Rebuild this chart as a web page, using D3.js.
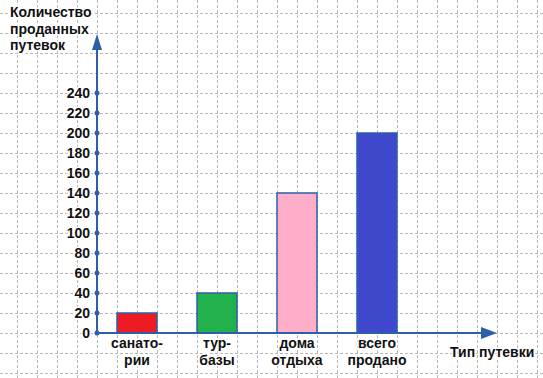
<!DOCTYPE html>
<html lang="ru">
  <head>
    <meta charset="utf-8">
    <title>Путевки</title>
    <script src="https://cdn.jsdelivr.net/npm/d3@7"></script>
    <style>
      body { margin: 0; background: #fff; }
      text { font-family: Arial, "Liberation Sans", sans-serif; font-weight: bold; font-size: 14px; fill: #111; }
    </style>
  </head>
  <body>
    <script>
      // data
      var categories = ["санатории", "турбазы", "дома отдыха", "всего продано"];
      var catLines = [["санато-", "рии"], ["тур-", "базы"], ["дома", "отдыха"], ["всего", "продано"]];
      var values = [20, 40, 140, 200];
      var colors = ["#ed1c24", "#22b14c", "#ffaec9", "#3f48cc"];
      var yTicks = [0, 20, 40, 60, 80, 100, 120, 140, 160, 180, 200, 220, 240];
      var yTitle = ["Количество", "проданных", "путевок"];
      var xTitle = "Тип путевки";

      const W = 543, H = 378;
      const AXIS = "#2c5fa8";

      var svg = d3.select("body").append("svg")
        .attr("width", W)
        .attr("height", H);

      // dashed grid, 20px cells
      var grid = svg.append("g")
        .attr("stroke", "#b8b8b8")
        .attr("stroke-dasharray", "3,2")
        .attr("stroke-width", 1);
      grid.selectAll("line.h").data(d3.range(13, H, 20)).join("line")
        .attr("x1", 0).attr("x2", W)
        .attr("y1", d => d + 0.5).attr("y2", d => d + 0.5);
      grid.selectAll("line.v").data(d3.range(17, W, 20)).join("line")
        .attr("y1", 0).attr("y2", H)
        .attr("x1", d => d + 0.5).attr("x2", d => d + 0.5);

      var y = d3.scaleLinear().domain([0, 240]).range([333, 93]);
      var x = d3.scaleBand().domain(categories).range([97, 417])
        .paddingInner(0.5).paddingOuter(0.25);

      // bars
      svg.selectAll("rect.bar").data(values).join("rect")
        .attr("class", "bar")
        .attr("x", (d, i) => x(categories[i]))
        .attr("y", d => y(d))
        .attr("width", x.bandwidth())
        .attr("height", d => y(0) - y(d))
        .attr("fill", (d, i) => colors[i])
        .attr("stroke", AXIS)
        .attr("stroke-width", 1.5);

      // y axis
      svg.append("line")
        .attr("x1", 97).attr("x2", 97)
        .attr("y1", y(0)).attr("y2", 48)
        .attr("stroke", AXIS).attr("stroke-width", 2);
      svg.append("path")
        .attr("d", "M97,34 L102,50 L92,50 Z")
        .attr("fill", AXIS);

      // x axis
      svg.append("line")
        .attr("x1", 96).attr("x2", 483)
        .attr("y1", y(0)).attr("y2", y(0))
        .attr("stroke", AXIS).attr("stroke-width", 2);
      svg.append("path")
        .attr("d", "M497," + y(0) + " L481," + (y(0) - 6) + " L481," + (y(0) + 6) + " Z")
        .attr("fill", AXIS);

      // tick dots + labels
      svg.selectAll("circle.tick").data(yTicks).join("circle")
        .attr("cx", 97).attr("cy", d => y(d)).attr("r", 2.5)
        .attr("fill", AXIS);
      svg.selectAll("text.tick").data(yTicks).join("text")
        .attr("x", 90).attr("y", d => y(d))
        .attr("dy", "0.36em")
        .attr("text-anchor", "end")
        .attr("stroke", "#fff").attr("stroke-width", 3)
        .attr("paint-order", "stroke")
        .text(d => d);

      // category labels
      var cat = svg.selectAll("text.cat").data(catLines).join("text")
        .attr("text-anchor", "middle")
        .attr("stroke", "#fff").attr("stroke-width", 3)
        .attr("paint-order", "stroke");
      cat.selectAll("tspan").data((d, i) => d.map(s => ({ s: s, i: i }))).join("tspan")
        .attr("x", d => x(categories[d.i]) + x.bandwidth() / 2)
        .attr("y", (d, j) => 348 + j * 17)
        .text(d => d.s);

      // titles
      svg.append("text")
        .attr("x", 10)
        .attr("stroke", "#fff").attr("stroke-width", 3)
        .attr("paint-order", "stroke")
        .selectAll("tspan").data(yTitle).join("tspan")
        .attr("x", 10)
        .attr("y", (d, i) => 17 + i * 16.5)
        .text(d => d);

      svg.append("text")
        .attr("x", 450).attr("y", 357)
        .attr("stroke", "#fff").attr("stroke-width", 3)
        .attr("paint-order", "stroke")
        .text(xTitle);
    </script>
  </body>
</html>
